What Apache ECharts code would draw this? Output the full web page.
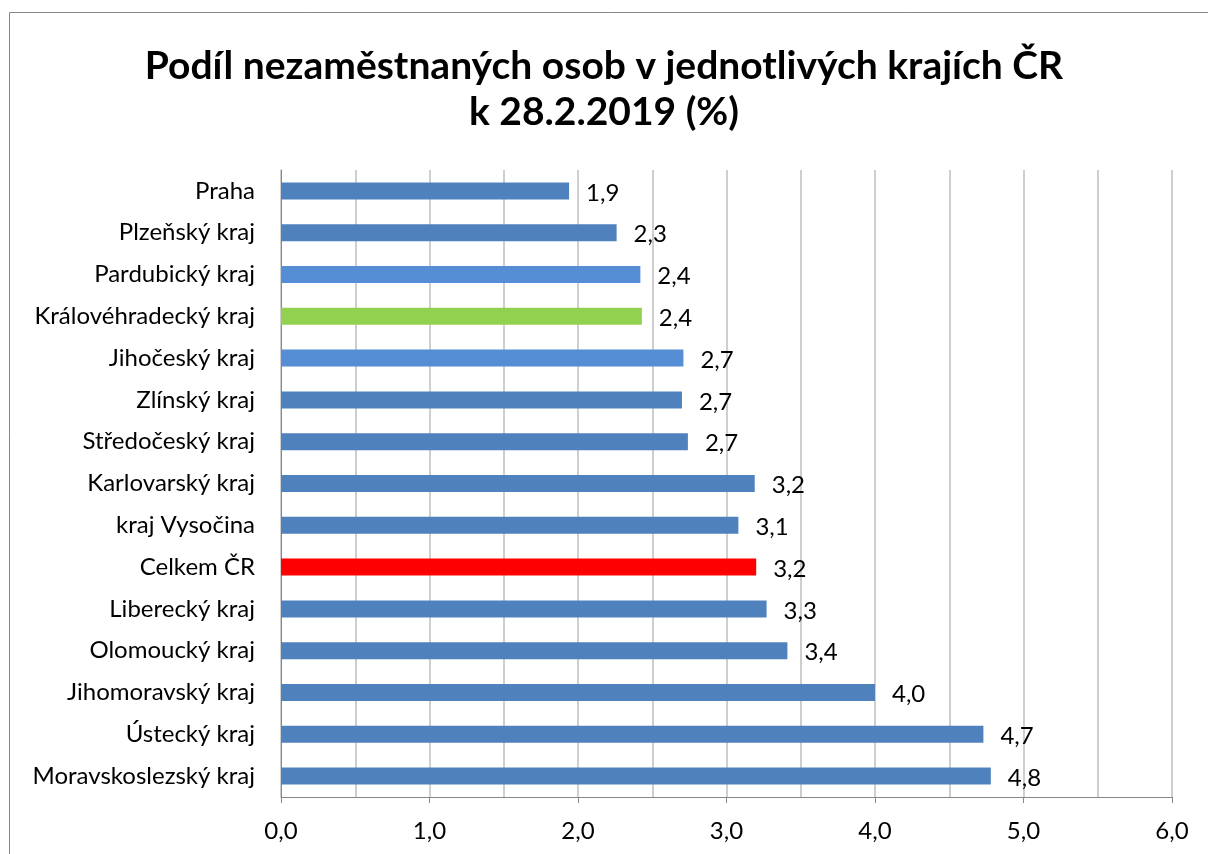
<!DOCTYPE html>
<html>
<head>
<meta charset="utf-8">
<script src="https://cdn.jsdelivr.net/npm/echarts@6/dist/echarts.min.js"></script>
<style>
  html, body { margin: 0; padding: 0; background: #fff; }
  #main { width: 1208px; height: 854px; }
</style>
</head>
<body>
<div id="main"></div>
<script>
let regions = [
	"Praha", "Plzeňský kraj", "Pardubický kraj", "Královéhradecký kraj",
	"Jihočeský kraj", "Zlínský kraj", "Středočeský kraj", "Karlovarský kraj",
	"kraj Vysočina", "Celkem ČR", "Liberecký kraj", "Olomoucký kraj",
	"Jihomoravský kraj", "Ústecký kraj", "Moravskoslezský kraj",
];
let shares = [1.94, 2.26, 2.42, 2.43, 2.71, 2.70, 2.74, 3.19, 3.08, 3.20, 3.27, 3.41, 4.0, 4.73, 4.78];

// highlighted bars
let specialColors = {
	"Pardubický kraj": "#558ED5",
	"Jihočeský kraj": "#558ED5",
	"Královéhradecký kraj": "#92D050",
	"Celkem ČR": "#FF0000",
};

const fmt = (v) => v.toFixed(1).replace(".", ",");
const font = "Lato, 'Open Sans', sans-serif";

let myChart = echarts.init(document.getElementById("main"));

myChart.setOption({
	animation: false,
	textStyle: { fontFamily: font },
	title: {
		text: "Podíl nezaměstnaných osob v jednotlivých krajích ČR\nk 28.2.2019 (%)",
		left: "center",
		top: 38,
		textStyle: { fontSize: 39, fontWeight: "bold", color: "#000", lineHeight: 46, fontFamily: font },
	},
	graphic: [
		{
			type: "rect",
			shape: { x: 9.5, y: 12.5, width: 1300, height: 1000 },
			style: { fill: "none", stroke: "#868686", lineWidth: 1 },
			silent: true,
		},
	],
	grid: { left: 281, right: 36, top: 170, bottom: 57, containLabel: false },
	xAxis: {
		type: "value",
		min: 0,
		max: 6,
		interval: 1,
		axisLine: { show: true, lineStyle: { color: "#868686" } },
		axisTick: { show: true, length: 6, lineStyle: { color: "#868686" } },
		axisLabel: { formatter: (v) => fmt(v), fontSize: 24, color: "#000", margin: 22 },
		splitLine: { show: true, lineStyle: { color: "#BFBFBF", width: 1.5 } },
		minorTick: { show: false, splitNumber: 2 },
		minorSplitLine: { show: true, lineStyle: { color: "#BFBFBF", width: 1.5 } },
	},
	yAxis: {
		type: "category",
		data: regions,
		inverse: true,
		axisLine: { show: true, lineStyle: { color: "#868686" } },
		axisTick: { show: false },
		axisLabel: { fontSize: 24, color: "#000", margin: 26 },
	},
	series: [
		{
			name: "Podíl",
			type: "bar",
			barWidth: 17,
			data: shares.map((v, i) => ({
				value: v,
				itemStyle: { color: specialColors[regions[i]] || "#4F81BD" },
			})),
			label: {
				show: true,
				position: "right",
				distance: 17,
				fontSize: 24,
				color: "#000",
				offset: [0, 2],
				formatter: (p) => fmt(p.value),
			},
		},
	],
});
</script>
</body>
</html>
